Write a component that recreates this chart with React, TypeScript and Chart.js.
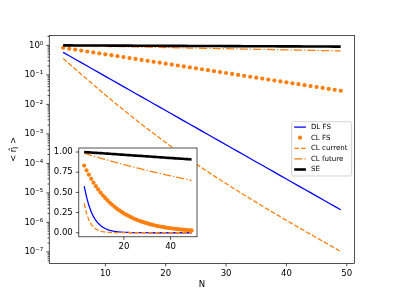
import React, { useEffect, useRef } from 'react';
import { Chart, registerables } from 'chart.js';

Chart.register(...registerables);

const W = 394;
const H = 296;
const FONT = 'DejaVu Sans';
const FS = 8.55;
const LEGEND_FS = 7.1;

// ---------------- data ----------------
const N = [3, 4, 5, 6, 7, 8, 9, 10, 11, 12, 13, 14, 15, 16, 17, 18, 19, 20, 21, 22, 23, 24, 25, 26, 27, 28, 29, 30, 31, 32, 33, 34, 35, 36, 37, 38, 39, 40, 41, 42, 43, 44, 45, 46, 47, 48, 49];

const DL_FS = [0.579, 0.444, 0.340, 0.260, 0.199, 0.152, 0.117, 0.0893, 0.0684, 0.0524, 0.0401, 0.0307, 0.0235, 0.0180, 0.0138, 0.0105, 8.07e-3, 6.18e-3, 4.73e-3, 3.62e-3, 2.77e-3, 2.12e-3, 1.63e-3, 1.24e-3, 9.53e-4, 7.29e-4, 5.58e-4, 4.28e-4, 3.27e-4, 2.51e-4, 1.92e-4, 1.47e-4, 1.12e-4, 8.61e-5, 6.59e-5, 5.05e-5, 3.86e-5, 2.96e-5, 2.26e-5, 1.73e-5, 1.33e-5, 1.02e-5, 7.78e-6, 5.96e-6, 4.56e-6, 3.49e-6, 2.67e-6];

const CL_FS = [0.832, 0.773, 0.719, 0.668, 0.621, 0.577, 0.537, 0.499, 0.464, 0.431, 0.401, 0.372, 0.347, 0.322, 0.299, 0.278, 0.259, 0.240, 0.223, 0.208, 0.193, 0.179, 0.167, 0.155, 0.144, 0.134, 0.125, 0.116, 0.108, 0.100, 0.0931, 0.0865, 0.0805, 0.0748, 0.0695, 0.0646, 0.0601, 0.0558, 0.0519, 0.0483, 0.0449, 0.0417, 0.0388, 0.0361, 0.0335, 0.0311, 0.0290];

const CL_CURRENT = [0.363, 0.240, 0.158, 0.105, 0.0700, 0.0467, 0.0312, 0.0209, 0.0141, 9.57e-3, 6.52e-3, 4.46e-3, 3.06e-3, 2.11e-3, 1.47e-3, 1.03e-3, 7.21e-4, 5.09e-4, 3.61e-4, 2.58e-4, 1.85e-4, 1.34e-4, 9.68e-5, 7.05e-5, 5.15e-5, 3.78e-5, 2.79e-5, 2.07e-5, 1.53e-5, 1.14e-5, 8.53e-6, 6.38e-6, 4.79e-6, 3.60e-6, 2.71e-6, 2.05e-6, 1.55e-6, 1.17e-6, 8.93e-7, 6.79e-7, 5.18e-7, 3.94e-7, 3.01e-7, 2.30e-7, 1.76e-7, 1.35e-7, 1.03e-7];

const CL_FUTURE = [0.985, 0.976, 0.967, 0.959, 0.950, 0.941, 0.933, 0.924, 0.916, 0.908, 0.900, 0.891, 0.883, 0.875, 0.868, 0.860, 0.852, 0.844, 0.837, 0.829, 0.822, 0.814, 0.807, 0.800, 0.793, 0.786, 0.778, 0.772, 0.765, 0.758, 0.751, 0.744, 0.738, 0.731, 0.725, 0.718, 0.712, 0.705, 0.699, 0.693, 0.687, 0.680, 0.674, 0.668, 0.662, 0.656, 0.650];

const SE = [1.000, 0.998, 0.996, 0.994, 0.992, 0.990, 0.988, 0.986, 0.984, 0.982, 0.980, 0.978, 0.976, 0.974, 0.972, 0.970, 0.968, 0.966, 0.964, 0.962, 0.960, 0.958, 0.956, 0.954, 0.952, 0.950, 0.948, 0.946, 0.944, 0.942, 0.940, 0.938, 0.936, 0.934, 0.932, 0.930, 0.928, 0.926, 0.924, 0.922, 0.920, 0.918, 0.916, 0.914, 0.912, 0.910, 0.908];

const LABELS = ['DL FS', 'CL FS', 'CL current', 'CL future', 'SE'];

const MAIN_X_TICKS = [10, 20, 30, 40, 50];
const MAIN_Y_DECADES = [-8, -7, -6, -5, -4, -3, -2, -1, 0];
const INSET_X_TICKS = [20, 40];
const INSET_Y_TICKS = [0, 0.25, 0.5, 0.75, 1.0];

const X_LABEL = 'N';
const Y_LABEL = '< \u03B7\u0302 >';

// ---------------- layout ----------------
const MAIN_AREA = { left: 49.25, top: 35.5, right: 354.6, bottom: 263.4 };
const INSET_AREA = { left: 78.8, top: 148, right: 197, bottom: 236.8 };
const X_RANGE = [0.7, 51.3];
const MAIN_Y_RANGE = [Math.pow(10, -7.39), Math.pow(10, 0.335)];
const INSET_Y_RANGE = [-0.05, 1.05];

const BLUE = '#0000ff';
const ORANGE = '#ff7f0e';
const LW = 1.28;

const SUP: Record<string, string> = { '-': '\u207B', '0': '\u2070', '1': '\u00B9', '2': '\u00B2', '3': '\u00B3', '4': '\u2074', '5': '\u2075', '6': '\u2076', '7': '\u2077', '8': '\u2078', '9': '\u2079' };
const sup = (n: number) => String(n).split('').map((c) => SUP[c]).join('');

function makeDatasets() {
  const pts = (arr: number[]) => N.map((n, i) => ({ x: n, y: arr[i] }));
  return [
    { label: LABELS[0], data: pts(DL_FS), borderColor: BLUE, borderWidth: LW, pointRadius: 0, order: 5 },
    { label: LABELS[1], data: pts(CL_FS), showLine: false, borderColor: ORANGE, backgroundColor: ORANGE, pointBackgroundColor: ORANGE, pointBorderWidth: 0, pointRadius: 2.1, order: 4 },
    { label: LABELS[2], data: pts(CL_CURRENT), borderColor: ORANGE, borderWidth: LW, borderDash: [4.75, 2.05], pointRadius: 0, order: 3 },
    { label: LABELS[3], data: pts(CL_FUTURE), borderColor: ORANGE, borderWidth: LW, borderDash: [8.2, 2.05, 1.28, 2.05], pointRadius: 0, order: 2 },
    { label: LABELS[4], data: pts(SE), borderColor: '#000000', borderWidth: 2.6, pointRadius: 0, order: 1 },
  ];
}

const framePlugin = {
  id: 'mplFrame',
  afterDatasetsDraw(chart: any) {
    const { ctx, chartArea: a } = chart;
    ctx.save();
    ctx.strokeStyle = '#000';
    ctx.lineWidth = 0.68;
    ctx.setLineDash([]);
    ctx.strokeRect(a.left, a.top, a.right - a.left, a.bottom - a.top);
    const xs = chart.scales.x;
    const ys = chart.scales.y;
    ctx.beginPath();
    for (const t of xs.ticks) {
      const p = xs.getPixelForValue(t.value);
      const len = t.major === false ? 1.7 : 3;
      ctx.moveTo(p, a.bottom);
      ctx.lineTo(p, a.bottom + len);
    }
    for (const t of ys.ticks) {
      const p = ys.getPixelForValue(t.value);
      const len = t.major === false ? 1.7 : 3;
      ctx.moveTo(a.left, p);
      ctx.lineTo(a.left - len, p);
    }
    ctx.stroke();
    ctx.restore();
  },
};

const whiteBgPlugin = {
  id: 'whiteBg',
  beforeDatasetsDraw(chart: any) {
    const { ctx, chartArea: a } = chart;
    ctx.save();
    ctx.fillStyle = '#ffffff';
    ctx.fillRect(a.left, a.top, a.right - a.left, a.bottom - a.top);
    ctx.restore();
  },
};

const legendPlugin = {
  id: 'mplLegend',
  afterDraw(chart: any) {
    const { ctx, chartArea: a } = chart;
    const w = 60;
    const h = 54.3;
    const right = a.right - 3;
    const left = right - w;
    const top = (a.top + a.bottom) / 2 - h / 2 - 0.6;
    ctx.save();
    ctx.beginPath();
    if (ctx.roundRect) ctx.roundRect(left, top, w, h, 2);
    else ctx.rect(left, top, w, h);
    ctx.fillStyle = 'rgba(255,255,255,0.8)';
    ctx.fill();
    ctx.strokeStyle = '#cccccc';
    ctx.lineWidth = 0.85;
    ctx.stroke();
    ctx.font = `${LEGEND_FS}px "${FONT}"`;
    ctx.textBaseline = 'middle';
    ctx.textAlign = 'left';
    chart.data.datasets.forEach((ds: any, i: number) => {
      const cy = top + 5.4 + i * 10.6;
      const hx0 = left + 2.6;
      const hx1 = left + 14.3;
      if (ds.showLine === false) {
        ctx.beginPath();
        ctx.fillStyle = ds.pointBackgroundColor;
        ctx.arc((hx0 + hx1) / 2, cy, ds.pointRadius, 0, Math.PI * 2);
        ctx.fill();
      } else {
        ctx.beginPath();
        ctx.strokeStyle = ds.borderColor;
        ctx.lineWidth = ds.borderWidth;
        ctx.setLineDash(ds.borderDash || []);
        ctx.moveTo(hx0, cy);
        ctx.lineTo(hx1, cy);
        ctx.stroke();
        ctx.setLineDash([]);
      }
      ctx.fillStyle = '#000';
      ctx.fillText(ds.label, left + 19.3, cy);
    });
    ctx.restore();
  },
};

function tickFont() {
  return { family: FONT, size: FS };
}

export default function App() {
  const mainRef = useRef<HTMLCanvasElement>(null);
  const insetRef = useRef<HTMLCanvasElement>(null);

  useEffect(() => {
    if (!mainRef.current || !insetRef.current) return;

    const mainChart = new Chart(mainRef.current, {
      type: 'line',
      data: { datasets: makeDatasets() as any },
      options: {
        responsive: false,
        animation: false,
        events: [],
        layout: { padding: { left: 0, top: MAIN_AREA.top, right: W - MAIN_AREA.right, bottom: 0 } },
        plugins: { legend: { display: false }, tooltip: { enabled: false } },
        scales: {
          x: {
            type: 'linear',
            min: X_RANGE[0],
            max: X_RANGE[1],
            grid: { display: false, drawTicks: false },
            border: { display: false },
            ticks: { font: tickFont(), color: '#000', padding: 5, autoSkip: false, maxRotation: 0, callback: (v: any) => String(v) },
            title: { display: true, text: X_LABEL, font: tickFont(), color: '#000', padding: { top: 0, bottom: 6 } },
            afterBuildTicks: (s: any) => {
              s.ticks = MAIN_X_TICKS.map((v) => ({ value: v, major: true }));
            },
            afterFit: (s: any) => {
              s.height = H - MAIN_AREA.bottom;
            },
          },
          y: {
            type: 'logarithmic',
            min: MAIN_Y_RANGE[0],
            max: MAIN_Y_RANGE[1],
            grid: { display: false, drawTicks: false },
            border: { display: false },
            ticks: {
              font: tickFont(),
              color: '#000',
              padding: 6,
              autoSkip: false,
              callback: (v: any) => {
                const l = Math.log10(v);
                if (Math.abs(l - Math.round(l)) > 1e-6) return '';
                return '10' + sup(Math.round(l));
              },
            },
            title: { display: true, text: Y_LABEL, font: tickFont(), color: '#000', padding: { top: 9, bottom: 0 } },
            afterBuildTicks: (s: any) => {
              const ticks: any[] = [];
              for (const d of MAIN_Y_DECADES) {
                for (let k = 1; k <= 9; k++) {
                  const v = k * Math.pow(10, d);
                  if (v >= MAIN_Y_RANGE[0] && v <= MAIN_Y_RANGE[1]) ticks.push({ value: v, major: k === 1 });
                }
              }
              ticks.sort((p, q) => p.value - q.value);
              s.ticks = ticks;
            },
            afterFit: (s: any) => {
              s.width = MAIN_AREA.left;
            },
          },
        },
      } as any,
      plugins: [framePlugin, legendPlugin],
    });

    const insetChart = new Chart(insetRef.current, {
      type: 'line',
      data: { datasets: makeDatasets() as any },
      options: {
        responsive: false,
        animation: false,
        events: [],
        layout: { padding: { left: 0, top: INSET_AREA.top, right: W - INSET_AREA.right, bottom: 0 } },
        plugins: { legend: { display: false }, tooltip: { enabled: false } },
        scales: {
          x: {
            type: 'linear',
            min: X_RANGE[0],
            max: X_RANGE[1],
            grid: { display: false, drawTicks: false },
            border: { display: false },
            ticks: { font: tickFont(), color: '#000', padding: 5, autoSkip: false, maxRotation: 0, callback: (v: any) => String(v) },
            afterBuildTicks: (s: any) => {
              s.ticks = INSET_X_TICKS.map((v) => ({ value: v, major: true }));
            },
            afterFit: (s: any) => {
              s.height = H - INSET_AREA.bottom;
            },
          },
          y: {
            type: 'linear',
            min: INSET_Y_RANGE[0],
            max: INSET_Y_RANGE[1],
            grid: { display: false, drawTicks: false },
            border: { display: false },
            ticks: { font: tickFont(), color: '#000', padding: 6, autoSkip: false, callback: (v: any) => Number(v).toFixed(2) },
            afterBuildTicks: (s: any) => {
              s.ticks = INSET_Y_TICKS.map((v) => ({ value: v, major: true }));
            },
            afterFit: (s: any) => {
              s.width = INSET_AREA.left;
            },
          },
        },
      } as any,
      plugins: [whiteBgPlugin, framePlugin],
    });

    return () => {
      mainChart.destroy();
      insetChart.destroy();
    };
  }, []);

  const canvasStyle: React.CSSProperties = { position: 'absolute', left: 0, top: 0, width: W, height: H };
  return (
    <div style={{ position: 'fixed', left: 0, top: 0, width: W, height: H, background: '#ffffff' }}>
      <canvas ref={mainRef} width={W} height={H} style={canvasStyle} />
      <canvas ref={insetRef} width={W} height={H} style={canvasStyle} />
    </div>
  );
}
